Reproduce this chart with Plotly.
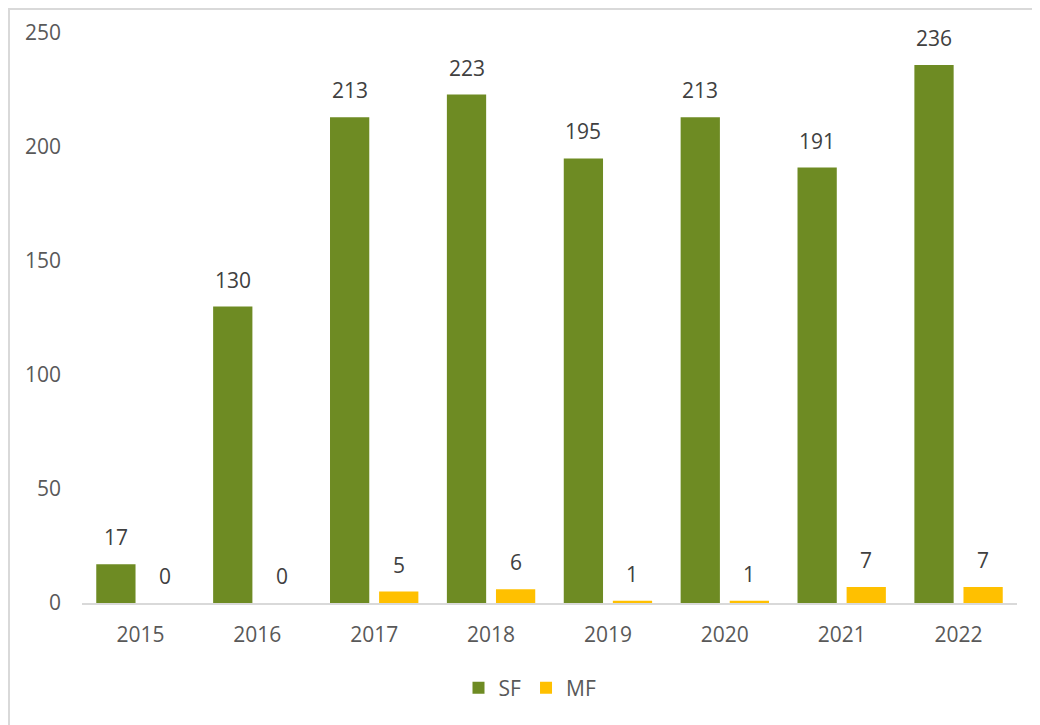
import plotly.graph_objects as go

years = ["2015", "2016", "2017", "2018", "2019", "2020", "2021", "2022"]
sf_values = [17, 130, 213, 223, 195, 213, 191, 236]
mf_values = [0, 0, 5, 6, 1, 1, 7, 7]
y_ticks = [0, 50, 100, 150, 200, 250]

FONT = "Open Sans, Liberation Sans, sans-serif"
GREEN = "#6E8B23"
YELLOW = "#FFC000"

# the page adds an 8px body margin, so figure coords = page coords - 8
OFF = 8
W, H = 1040, 725
L, T = 82 - OFF, 33 - OFF
R = W - (1017 - OFF)
B = H - (603 - OFF)
pw, ph = W - L - R, H - T - B

BARGAP, GROUPGAP = 0.16, 0.2
# horizontal offset of each bar centre from its category centre
slot = pw / len(years) * (1 - BARGAP) / 2

fig = go.Figure()
series = (("SF", sf_values, GREEN, -1), ("MF", mf_values, YELLOW, 1))
for name, vals, color, side in series:
    fig.add_trace(go.Bar(
        x=years, y=vals, name=name,
        marker=dict(color=color, line=dict(width=0)),
        hoverinfo="x+y+name",
    ))
    # value labels sit a bit higher than plotly's 'outside' text would put them.
    # numeric-looking category names get read as indices, so use the index.
    for i, v in enumerate(vals):
        fig.add_annotation(
            x=i, y=v, text=str(v), showarrow=False,
            xshift=side * slot / 2, yshift=11, yanchor="bottom",
            font=dict(family=FONT, size=21, color="#404040"),
        )

# light grey outer chart border (as far up/left as the figure allows)
fig.add_shape(
    type="rect", xref="paper", yref="paper",
    x0=(1 - L) / pw, x1=(W + 10 - L) / pw,
    y0=(T + ph - (H + 10)) / ph, y1=(T + ph - 1) / ph,
    line=dict(color="#D9D9D9", width=2), fillcolor="rgba(0,0,0,0)",
    layer="below",
)

fig.update_layout(
    width=W, height=H,
    margin=dict(l=L, r=R, t=T, b=B, autoexpand=False),
    paper_bgcolor="white", plot_bgcolor="white",
    barmode="group", bargap=BARGAP, bargroupgap=GROUPGAP,
    font=dict(family=FONT, size=21, color="#595959"),
    legend=dict(
        orientation="h", x=(530 - OFF - L) / pw, xanchor="center",
        y=(T + ph - (688 - OFF)) / ph, yanchor="middle",
        font=dict(size=21, color="#595959"), itemwidth=30,
    ),
    showlegend=True,
)
fig.update_xaxes(
    type="category", range=[-0.5, len(years) - 0.5],
    showline=True, linecolor="#D9D9D9", linewidth=2,
    showgrid=False, ticks="", ticklabelstandoff=12,
)
fig.update_yaxes(
    range=[0, 250], tickvals=y_ticks, showgrid=False, zeroline=False,
    showline=False, ticks="", ticklabelstandoff=20,
)

fig.write_html("out.html")
